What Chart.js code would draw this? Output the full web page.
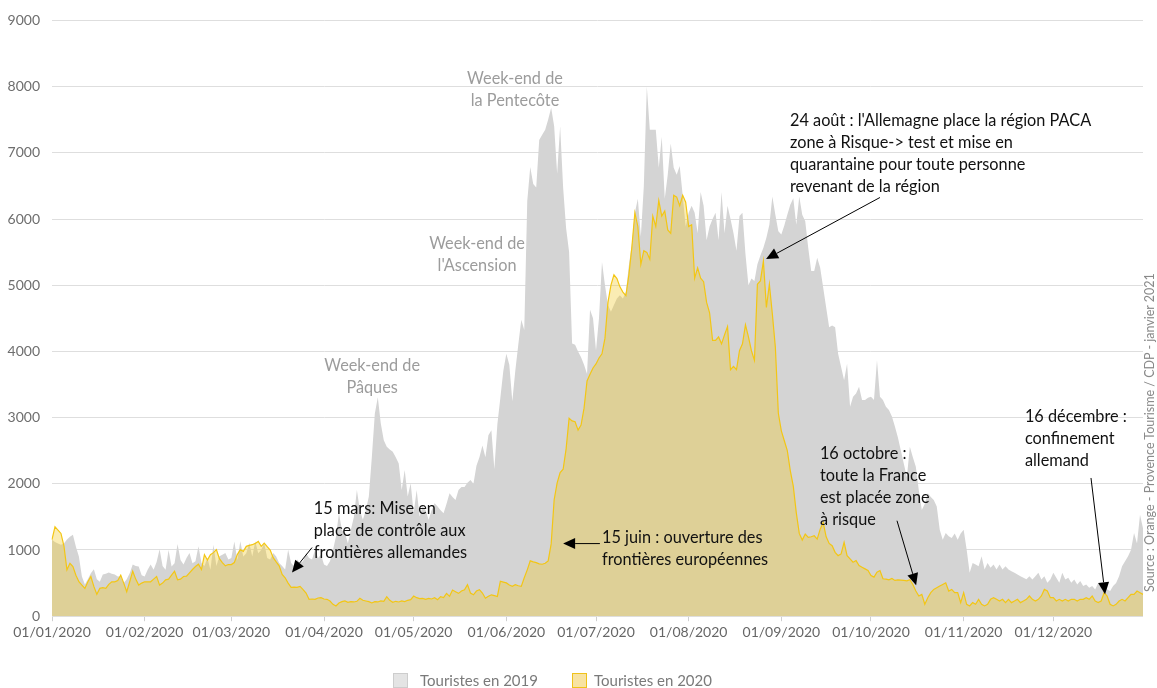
<!DOCTYPE html>
<html lang="fr">
<head>
<meta charset="utf-8">
<title>Touristes 2019 / 2020</title>
<script src="https://cdn.jsdelivr.net/npm/chart.js@4.4.1/dist/chart.umd.min.js"></script>
<style>
  html, body { margin: 0; padding: 0; background: #ffffff; }
  #wrap { position: relative; width: 1157px; height: 688px; overflow: hidden; background: #fff; }
  #c { position: absolute; left: 0; top: 0; }
  .note { position: absolute; white-space: nowrap; font-family: Lato, "Open Sans", sans-serif; font-size: 16.3px; line-height: 22px; }
  .src { position: absolute; left: 1143px; top: 592px; transform-origin: 0 0; transform: rotate(-90deg);
         white-space: nowrap; font-family: Lato, sans-serif; font-size: 12.5px; line-height: 14px; color: #8a8a8a; }
  .lg-box { position: absolute; width: 15px; height: 15px; box-sizing: border-box; }
  .lg-txt { position: absolute; font-family: Lato, sans-serif; font-size: 15px; line-height: 18px; color: #7a7a7a; white-space: nowrap; }
</style>
</head>
<body>
<div id="wrap">
  <canvas id="c" width="1157" height="688"></canvas>
  <div class="src">Source : Orange - Provence Tourisme  / CDP - janvier 2021</div>
  <div class="lg-box" style="left:393px;top:673px;background:#e4e4e4;border:1px solid #cdcdcd;"></div>
  <div class="lg-txt" style="left:420px;top:671px;">Touristes en 2019</div>
  <div class="lg-box" style="left:572px;top:673px;background:#f8e3a2;border:1px solid #f0c21a;"></div>
  <div class="lg-txt" style="left:594px;top:671px;">Touristes en 2020</div>
</div>
<script>
// ---------- tick labels ----------
const monthTicks = ['01/01/2020','01/02/2020','01/03/2020','01/04/2020','01/05/2020','01/06/2020',
                    '01/07/2020','01/08/2020','01/09/2020','01/10/2020','01/11/2020','01/12/2020'];

// ---------- Touristes en 2019 (daily, by month) ----------
const t2019_jan = [1155,1120,1100,1080,1100,1160,1200,1230,1050,900, 600,480,560,650,710,560,520,630,640,660, 640,630,600,600,500,560,650,780,760,750, 620];
const t2019_feb = [600,700,780,700,820,1010,760,700,1000, 750,800,1090,850,780,880,955,800,830,1055, 805,760,880,700,1080,760,905,930,955,855];
const t2019_mar = [880,1130,850,1131,900,950,1106,900,1131,950, 1000,1106,880,855,955,900,805,760,705,1005, 805,755,855,805,830,955,880,855,1005,880, 930];
const t2019_apr = [780,760,830,1000,1200,1557,1300,1257,1100, 1307,1500,1908,1600,1457,1600,1807,2400,3059,3309, 2909,2658,2558,2520,2483,2400,2308,1908,2208,1807, 2007];
const t2019_may = [1557,1908,1507,1657,1600,1457,1600,1707,1657, 1600,1557,1700,1858,1800,1757,1908,1950,1950,2015, 2058,2000,2272,2400,2580,2400,2733,2810,2220,2900, 3298,3708];
const t2019_jun = [3964,3800,3246,3708,4100,4477,4323,6272, 6785,6528,6477,7195,7272,7349,7503,7682,7400,6682, 7400,6477,5862,5503,4118,4100,4000,3913,3800,3657, 4631,4500];
const t2019_jul = [4015,4500,5349,5000,4700,4600,4700,4800, 4850,4800,4900,5300,5627,6096,6305,5731,6500,8000, 7348,7348,7348,6774,7244,6305,6670,7139,6774,6670, 6800,6357,5887];
const t2019_aug = [6096,6200,6096,5783,6409,6200,5679, 5887,6000,6096,5679,6409,5783,6200,6000,5783,5522, 6044,6096,5470,5000,5100,5065,5315,5450,5565,5715, 5915,6340,6065,5815];
const t2019_sep = [5765,5900,6065,6215,6315,5915, 6340,6065,5965,5565,5215,5215,5415,5265,4965,4665, 4365,4390,4365,3965,3765,3565,3815,3165,3315,3365, 3465,3265,3265,3300];
const t2019_oct = [3315,3265,3865,3315,3265,3165, 3115,3015,2865,2700,2500,2300,2100,2560,2400,2258, 1900,1606,1700,1856,1800,1756,1656,1307,1156,1256, 1206,1180,1250,1156,1250];
const t2019_nov = [1307,1006,655,805,780, 755,905,705,805,730,780,705,780,705,755, 705,680,655,630,605,580,560,605,555,605, 656,555,605,505,555];
const t2019_dec = [656,580,505,656,555, 580,505,555,480,530,455,480,430,455,405, 500,455,430,405,380,455,500,605,755,830, 905,1005,1256,1100,1533,1330];

// ---------- Touristes en 2020 (daily, by month) ----------
const t2020_jan = [1155,1350,1300,1250,1060,700,800,750,620,520, 470,420,520,600,450,330,420,430,420,480, 520,520,540,620,500,370,520,680,560,470, 500];
const t2020_feb = [520,520,520,560,600,470,500,550,560, 620,680,550,560,600,605,655,705,750,785, 705,930,850,930,960,1005,870,810,760,780];
const t2020_mar = [780,810,930,1005,980,1055,1070,1080,1100,1130, 1055,1105,1050,1000,885,820,760,630,580,500, 435,440,435,450,400,350,255,260,255,275, 280];
const t2020_apr = [260,255,230,180,155,200,220,230,210, 220,215,225,270,240,230,220,200,220,215, 230,225,295,240,210,225,215,230,220,240, 250];
const t2020_may = [305,280,265,270,255,270,260,280,250, 295,280,345,300,395,370,345,380,400,477, 350,323,380,400,350,272,300,323,310,298, 528,515];
const t2020_jun = [503,470,451,477,460,451,580,700, 836,820,810,790,785,800,836,1092,1759,2015, 2169,2220,2528,2990,2950,2938,2810,2887,3143,3554, 3656,3750];
const t2020_jul = [3810,3900,3964,4200,4740,5000,5157,5100, 4975,4896,4844,5157,5575,6096,5887,5314,5522,5496, 5392,6044,5887,6279,6044,6122,5835,5783,6357,6331, 6200,6357,6253];
const t2020_aug = [5887,5913,5105,5261,5105,5053,4740, 4583,4166,4166,4218,4114,4250,4375,3723,3775,3723, 4010,4114,4401,4218,4010,3865,5015,5065,5365,4665, 5015,4565,4065,3065];
const t2020_sep = [2800,2650,2500,2200,1965,1565, 1250,1150,1240,1190,1200,1215,1165,1315,1415,1200, 1100,1065,965,915,940,1115,915,865,815,840, 765,740,715,690];
const t2020_oct = [615,590,665,690,565,560,550,570,540,550, 545,540,535,550,480,380,305,330,180,280, 355,405,430,455,480,505,380,405,355,355, 205];
const t2020_nov = [355,180,155,205,180, 255,180,155,180,255,280,255,230,255,205, 255,205,230,255,205,230,255,305,255,230, 255,305,405,380,280];
const t2020_dec = [280,230,255,230,255, 230,255,255,230,255,255,280,255,305,230, 205,230,355,305,180,155,180,230,255,230, 280,330,330,380,355,330];

const series2019 = [].concat(t2019_jan,t2019_feb,t2019_mar,t2019_apr,t2019_may,t2019_jun,t2019_jul,t2019_aug,t2019_sep,t2019_oct,t2019_nov,t2019_dec);
const series2020 = [].concat(t2020_jan,t2020_feb,t2020_mar,t2020_apr,t2020_may,t2020_jun,t2020_jul,t2020_aug,t2020_sep,t2020_oct,t2020_nov,t2020_dec);

// ---------- categories: every day of 2020 ----------
const days = [];
for (let d = new Date(Date.UTC(2020,0,1)); d.getUTCFullYear() === 2020; d.setUTCDate(d.getUTCDate()+1)) {
  const dd = String(d.getUTCDate()).padStart(2,'0');
  const mm = String(d.getUTCMonth()+1).padStart(2,'0');
  days.push(dd + '/' + mm + '/2020');
}

// ---------- annotations (anchored in data coordinates: day index, value) ----------
const notes = [
  { lines: ['Week-end de','Pâques'],       day: 107.1, value: 3967, align: 'center', color: '#9c9c9c' },
  { lines: ["Week-end de","l'Ascension"],  day: 142.2, value: 5800, align: 'center', color: '#9c9c9c' },
  { lines: ['Week-end de','la Pentecôte'], day: 154.9, value: 8294, align: 'center', color: '#9c9c9c' },
  { lines: ["24 août : l'Allemagne place la région PACA","zone à Risque-> test et  mise en","quarantaine pour toute personne","revenant de la région"], day: 246.9, value: 7663, align: 'left', color: '#111' },
  { lines: ['15 mars: Mise en','place de contrôle aux','frontières allemandes'], day: 87.6, value: 1803, align: 'left', color: '#111' },
  { lines: ['15 juin : ouverture des','frontières européennes'], day: 184.0, value: 1367, align: 'left', color: '#111' },
  { lines: ['16 octobre :','toute la France','est placée zone','à risque'], day: 256.9, value: 2629, align: 'left', color: '#111' },
  { lines: ['16 décembre :','confinement','allemand'], day: 325.5, value: 3185, align: 'left', color: '#111' }
];
const arrows = [
  { from: [277.0, 6325], to: [238.9, 5394] },
  { from: [87.0, 1037],  to: [80.3, 661] },
  { from: [183.3, 1097], to: [171.0, 1097] },
  { from: [282.7, 1442], to: [289.1, 466] },
  { from: [347.6, 2088], to: [352.3, 331] }
];

const arrowPlugin = {
  id: 'arrows',
  afterDatasetsDraw(chart) {
    const { ctx, scales: { x, y } } = chart;
    ctx.save();
    ctx.strokeStyle = '#000'; ctx.fillStyle = '#000'; ctx.lineWidth = 1;
    arrows.forEach(a => {
      const x1 = x.getPixelForValue(a.from[0]), y1 = y.getPixelForValue(a.from[1]);
      const x2 = x.getPixelForValue(a.to[0]),   y2 = y.getPixelForValue(a.to[1]);
      const ang = Math.atan2(y2 - y1, x2 - x1);
      const L = 12, W = 5.5;
      const bx = x2 - L * Math.cos(ang), by = y2 - L * Math.sin(ang);
      ctx.beginPath(); ctx.moveTo(x1, y1); ctx.lineTo(bx, by); ctx.stroke();
      ctx.beginPath();
      ctx.moveTo(x2, y2);
      ctx.lineTo(bx + W * Math.sin(ang), by - W * Math.cos(ang));
      ctx.lineTo(bx - W * Math.sin(ang), by + W * Math.cos(ang));
      ctx.closePath(); ctx.fill();
    });
    ctx.restore();
  }
};

const chart = new Chart(document.getElementById('c'), {
  type: 'line',
  data: {
    labels: days,
    datasets: [
      { label: 'Touristes en 2020', data: series2020, order: 0,
        borderColor: '#f3c614', borderWidth: 1.2, backgroundColor: 'rgba(240,203,45,0.36)',
        fill: 'origin', pointRadius: 0, tension: 0 },
      { label: 'Touristes en 2019', data: series2019, order: 1,
        borderColor: '#d4d4d4', borderWidth: 0, backgroundColor: '#d4d4d4',
        fill: 'origin', pointRadius: 0, tension: 0 }
    ]
  },
  options: {
    responsive: false, animation: false, devicePixelRatio: 1,
    layout: { padding: { left: 7, right: 14, top: 10, bottom: 44 } },
    plugins: { legend: { display: false }, tooltip: { enabled: false } },
    scales: {
      x: {
        ticks: {
          autoSkip: false, maxRotation: 0, minRotation: 0, padding: 3,
          color: '#666', font: { family: 'Lato', size: 14 },
          callback: function (v) { const l = this.getLabelForValue(v); return monthTicks.includes(l) ? l : null; }
        },
        grid: { drawOnChartArea: false, tickLength: 5, color: '#cfcfcf' },
        border: { display: false }
      },
      y: {
        min: 0, max: 9000,
        afterFit: s => { s.width = 45; },
        ticks: { stepSize: 1000, padding: 12, color: '#6e6e6e', font: { family: 'Lato', size: 14 },
                 callback: v => String(v) },
        grid: { color: '#dedede', drawTicks: false },
        border: { display: false }
      }
    }
  },
  plugins: [arrowPlugin]
});

// place annotation texts from the chart's own scales
const wrap = document.getElementById('wrap');
notes.forEach(n => {
  const div = document.createElement('div');
  div.className = 'note';
  div.style.color = n.color;
  div.style.textAlign = n.align;
  div.innerHTML = n.lines.map(s => s.replace(/&/g,'&amp;').replace(/</g,'&lt;').replace(/>/g,'&gt;')).join('<br>');
  const px = chart.scales.x.getPixelForValue(n.day);
  const py = chart.scales.y.getPixelForValue(n.value);
  div.style.top = py + 'px';
  div.style.left = px + 'px';
  if (n.align === 'center') div.style.transform = 'translateX(-50%)';
  wrap.appendChild(div);
});
</script>
</body>
</html>
